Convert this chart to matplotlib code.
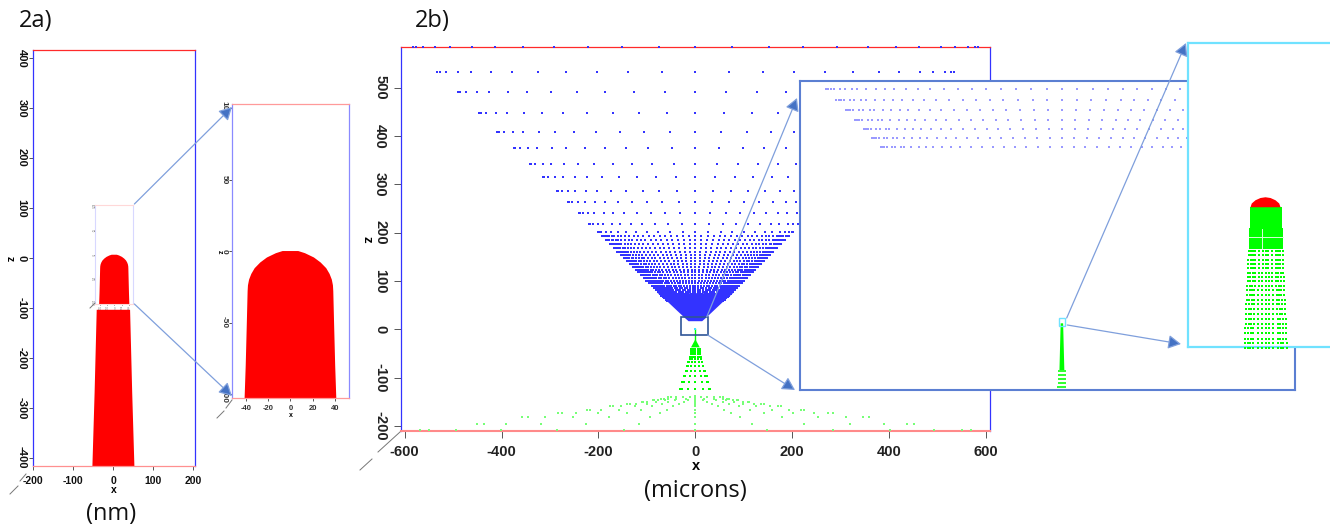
import numpy as np
import matplotlib
matplotlib.use("Agg")
import matplotlib.pyplot as plt

plt.rcParams['font.family'] = ['Liberation Sans', 'DejaVu Sans']
plt.rcParams['axes.unicode_minus'] = False

W, H = 1330, 527

# ---------- data ----------
# 2a: tip outline, half of it (nm)
tip_half_x = [7, 13, 21, 27, 32, 35, 37, 38, 38.3, 39, 40, 41]
tip_z = [0, -1.5, -4.5, -8, -12, -16, -20, -24, -28, -50, -80, -103]
shank_half_x = [41.7, 47, 52.5]
shank_z = [-104, -270, -417]

a_xticks = [-200, -100, 0, 100, 200]
a_zticks = [-400, -300, -200, -100, 0, 100, 200, 300, 400]
zoom_xticks = [-40, -20, 0, 20, 40]
zoom_zticks = [-100, -50, 0, 50, 100]

# 2b: microns
b_xticks = [-600, -400, -200, 0, 200, 400, 600]
b_zticks = [-200, -100, 0, 100, 200, 300, 400, 500]

blue_sparse_z = [583, 533, 490, 447, 409, 375, 342, 315, 286, 263, 240, 219, 201]
blue_sparse_frac = [0, .13, .26, .38, .50, .61, .71, .79, .87, .92, .965, .99, 1.0]
blue_dense_z = [193, 184, 176, 168, 161, 154, 148, 141, 135, 129, 123, 118, 112, 107,
                101, 96, 90, 85, 81, 78, 73, 70, 67, 64, 61, 58]
blue_dense_frac = [0, .065, .13, .196, .26, .32, .38, .44, .50, .56, .61, .66, .71, .75,
                   .79, .83, .87, .89, .92, .94, .965, .98, .99, 1.0]
blue_solid_half = [14, 22, 58, 78]
blue_solid_z = [17, 24, 58, 75]

cone_z = [-123, -109, -96.6, -85.7, -76.6, -68.3, -62, -56.7, -51.7, -47, -43, -40]
cone_half = [31, 27, 23, 20, 16.5, 14.5, 12, 11, 9.5, 9, 9, 9]
cone_frac = [0, .5, .9, 1.0]
cone_solid_half = [1, 9]
cone_solid_z = [-22, -37]
stem_z = [0, -22]

arc_z = [-207, -194.5, -182, -172.6, -165.6, -158.7, -154, -150, -146, -143, -140]
arc_x = [[147, 285, 402, 493, 550, 568],
         [116, 225, 318.5, 390, 436, 450.6],
         [93, 178, 252.5, 310, 345, 358],
         [73.6, 142, 201, 245.6, 274.5, 283],
         [59, 113, 158, 194, 218, 224],
         [46, 89, 125, 154, 171, 177],
         [34, 69, 99, 122, 135.5, 141],
         [24, 56, 80.5, 99, 108, 110],
         [16, 43, 63, 78, 85, 87],
         [18.6, 39, 56, 65, 70],
         [12, 25, 39, 50, 56]]
arc_center_z = [-207, -194.5, -182, -172.6, -165.6, -158.7, -155, -152, -149, -146, -143, -140, -137]

# inset of the box in 2b
inset_row_z = [25, 23.9, 22.9, 21.9, 21, 20.1, 19.2]
spike_half = [0.13, 0.26]
spike_z = [1.57, -3.13]
spike_row_z = [-3.2, -3.6, -4.0, -4.4, -4.8]
spike_row_half = [0.3, 0.32, 0.33, 0.35, 0.36]
spike_frac = [0, .33, .66, 1.0]

# third panel (microns from the tip)
cap_half = [0, .02, .04, .055, .06]
cap_z = [0, -.003, -.012, -.025, -.04]
body_half = [.064, .068]
body_z = [-.04, -.123, -.207]
tail_z = [-.215, -.231, -.251, -.267, -.284, -.302, -.32, -.336, -.354, -.371, -.39,
          -.41, -.428, -.448, -.467, -.487, -.506, -.524, -.544, -.566, -.584, -.603]
tail_half = [.068, .068, .069, .07, .07, .071, .072, .072, .073, .074, .075,
             .076, .077, .078, .079, .08, .08, .081, .082, .083, .084, .084]
tail_frac = [0, .17, .38, .6, .72, .85, 1.0]

BLUE = '#3333ff'
RED = '#ff2a2a'
GREEN = '#00ff00'
FILLRED = '#ff0000'
ARROW = '#4472c4'


def axes_px(fig, x0, y0, x1, y1, z=1):
    return fig.add_axes([x0 / W, 1 - y1 / H, (x1 - x0) / W, (y1 - y0) / H], zorder=z)


def style(ax, xticks, zticks, xsize, zsize, lr, tb, bottom=None, lw=0.9, weight='normal',
          tcolor='#111111', tlen=3, xpad=2, zpad=2):
    ax.set_xticks(xticks)
    ax.set_yticks(zticks)
    ax.tick_params(axis='x', labelsize=xsize, length=tlen, width=0.7, color='#555555',
                   labelcolor=tcolor, pad=xpad)
    ax.tick_params(axis='y', labelsize=zsize, length=tlen, width=0.7, color='#555555',
                   labelcolor=tcolor, pad=zpad)
    for t in ax.get_yticklabels():
        t.set_rotation(-90)
        t.set_va('center')
        t.set_ha('center')
        t.set_fontweight(weight)
    for t in ax.get_xticklabels():
        t.set_fontweight(weight)
    for s in ('left', 'right'):
        ax.spines[s].set_color(lr)
        ax.spines[s].set_linewidth(lw)
    ax.spines['top'].set_color(tb)
    ax.spines['top'].set_linewidth(lw)
    ax.spines['bottom'].set_color(bottom or tb)
    ax.spines['bottom'].set_linewidth(lw)


def mirror(half, z):
    half = np.asarray(half, float)
    z = np.asarray(z, float)
    return np.r_[-half, half[::-1]], np.r_[z, z[::-1]]


fig = plt.figure(figsize=(W / 100, H / 100), dpi=100, facecolor='white')

# ---------- 2a main ----------
ax = axes_px(fig, 32.6, 50.4, 195, 466.2, 1)
ax.set_xlim(-202, 204)
ax.set_ylim(-417, 415)
xs, zs = mirror(shank_half_x, shank_z)
ax.fill(xs, zs, color=FILLRED, lw=0)
style(ax, a_xticks, a_zticks, 7.5, 8, BLUE, RED, bottom='#ff9090', weight='bold', xpad=4, zpad=5)
ax.set_xlabel('x', fontsize=7.5, fontweight='bold', labelpad=-1)
ax.set_ylabel('z', fontsize=7.5, fontweight='bold', rotation=-90, labelpad=5, va='center')

# ---------- 2a zoom panel ----------
ax = axes_px(fig, 232.3, 104.2, 348.6, 398.3, 2)
ax.set_xlim(-52, 52)
ax.set_ylim(-103, 102.7)
xs, zs = mirror(tip_half_x, tip_z)
ax.fill(xs, zs, color=FILLRED, lw=0)
style(ax, zoom_xticks, zoom_zticks, 5.5, 6, '#8a8aff', '#ff9a9a', tlen=2, xpad=3, zpad=4,
      weight='bold', tcolor='#333333')
ax.set_xlabel('x', fontsize=5, fontweight='bold', labelpad=0)
ax.set_ylabel('z', fontsize=5, fontweight='bold', rotation=-90, labelpad=1, va='center')

# ---------- 2a tiny copy over the main shape ----------
ax = axes_px(fig, 95.1, 205.4, 133.4, 304.2, 3)
ax.set_xlim(-52, 52)
ax.set_ylim(-103, 102.7)
ax.fill(xs, zs, color=FILLRED, lw=0)
style(ax, zoom_xticks, zoom_zticks, 2, 2, '#d8d8ff', '#ffd8d8', tlen=1, xpad=1, zpad=1.5,
      tcolor='#777777', lw=0.8)

# ---------- 2b main ----------
ax = axes_px(fig, 401, 47, 990, 431, 4)
ax.set_xlim(-607.5, 608)
ax.set_ylim(-210, 584)
sparse_x = np.outer(blue_sparse_z, blue_sparse_frac)
sparse_z = np.repeat(blue_sparse_z, len(blue_sparse_frac)).reshape(sparse_x.shape)
dense_x = np.outer(blue_dense_z, blue_dense_frac)
dense_z = np.repeat(blue_dense_z, len(blue_dense_frac)).reshape(dense_x.shape)
for px, pz, s in ((sparse_x, sparse_z, 1.5), (dense_x, dense_z, 1.7)):
    ax.scatter(np.r_[px.ravel(), -px.ravel()], np.r_[pz.ravel(), pz.ravel()], s=s,
               marker='s', color=BLUE, linewidths=0, clip_on=False, zorder=3)
xs, zs = mirror(blue_solid_half, blue_solid_z)
ax.fill(xs, zs, color=BLUE, lw=0, zorder=3)

cx = np.outer(cone_half, cone_frac)
cz = np.repeat(cone_z, len(cone_frac)).reshape(cx.shape)
ax.scatter(np.r_[cx.ravel(), -cx.ravel()], np.r_[cz.ravel(), cz.ravel()], s=2.6, marker='s',
           color=GREEN, linewidths=0, zorder=3)
xs, zs = mirror(cone_solid_half, cone_solid_z)
ax.fill(xs, zs, color=GREEN, lw=0, zorder=3)
ax.plot([0, 0], stem_z, color=GREEN, lw=1.0, zorder=3)
ax.scatter([0], stem_z[:1], s=3, marker='s', color='#40e0ff', linewidths=0, zorder=4)
for z_, row in zip(arc_z, arc_x):
    row = np.asarray(row)
    ax.scatter(np.r_[row, -row], np.full(2 * len(row), z_), s=1.2, marker='s', color='#77ff77',
               linewidths=0, clip_on=False, zorder=3)
ax.scatter(np.zeros(len(arc_center_z)), arc_center_z, s=1.2, marker='s', color='#77ff77',
           linewidths=0, clip_on=False, zorder=3)
style(ax, b_xticks, b_zticks, 10.5, 10.5, BLUE, RED, bottom='#ff8a8a', weight='bold', xpad=5, zpad=10,
      tlen=5, tcolor='#222222')
ax.spines['bottom'].set_linewidth(1.5)
ax.set_xlabel('x', fontsize=10.5, fontweight='bold', labelpad=0)
ax.set_ylabel('z', fontsize=9.5, fontweight='bold', rotation=-90, labelpad=5, va='center')

# ---------- 2b first inset ----------
ax = axes_px(fig, 800, 81, 1295, 390, 5)
ax.set_xlim(-27.75, 24.7)
ax.set_ylim(-5.1, 25.8)
ix = np.outer(inset_row_z, blue_dense_frac)
iz = np.repeat(inset_row_z, len(blue_dense_frac)).reshape(ix.shape)
ax.scatter(np.r_[ix.ravel(), -ix.ravel()], np.r_[iz.ravel(), iz.ravel()], s=1.0, marker='s',
           color='#9a9aff', linewidths=0, zorder=3)
xs, zs = mirror(spike_half, spike_z)
ax.fill(xs, zs, color=GREEN, lw=0, zorder=3)
sx = np.outer(spike_row_half, spike_frac)
sz = np.repeat(spike_row_z, len(spike_frac)).reshape(sx.shape)
ax.scatter(np.r_[sx.ravel(), -sx.ravel()], np.r_[sz.ravel(), sz.ravel()], s=1.0, marker='s',
           color='#33ff33', linewidths=0, zorder=3)
ax.set_xticks([])
ax.set_yticks([])
for s in ax.spines.values():
    s.set_color('#5b7fd2')
    s.set_linewidth(1.5)

# ---------- 2b second inset ----------
ax = axes_px(fig, 1188, 43, 1332, 347, 6)
ax.set_xlim(-.310, .266)
ax.set_ylim(-.599, .617)
ax.fill(*mirror(cap_half, cap_z), color=FILLRED, lw=0, zorder=4)
bx = [-body_half[0], body_half[0], body_half[0], body_half[1], body_half[1],
      -body_half[1], -body_half[1], -body_half[0]]
bz = [body_z[0], body_z[0], body_z[1], body_z[1], body_z[2], body_z[2], body_z[1], body_z[1]]
ax.fill(bx, bz, color=GREEN, lw=0, zorder=3)
ax.plot([-body_half[1], body_half[1]], [-.16, -.16], color='#d8ffd8', lw=0.7, zorder=4)
ax.plot([-.013, -.013], [-.125, -.207], color='#d8ffd8', lw=0.7, zorder=4)
tx = np.outer(tail_half, tail_frac)
tz = np.repeat(tail_z, len(tail_frac)).reshape(tx.shape)
ax.scatter(np.r_[tx.ravel(), -tx.ravel()], np.r_[tz.ravel(), tz.ravel()], s=2.0, marker='s',
           color=GREEN, linewidths=0, clip_on=False, zorder=5)
ax.set_xticks([])
ax.set_yticks([])
ax.spines['right'].set_visible(False)
for s in ('left', 'top', 'bottom'):
    ax.spines[s].set_color('#70e2ff')
    ax.spines[s].set_linewidth(1.6)

# ---------- overlay in pixel units: arrows, box, words ----------
ov = fig.add_axes([0, 0, 1, 1], zorder=10)
ov.set_xlim(0, W)
ov.set_ylim(H, 0)
ov.axis('off')
ov.patch.set_alpha(0)

arrows = [((134.4, 204), (232, 107)), ((134.4, 304), (232, 396)),
          ((706.7, 317), (797, 98)), ((707.7, 335), (795, 390)),
          ((1066.7, 318), (1186, 43)), ((1067.3, 325), (1181, 344))]
for start, end in arrows:
    ov.annotate('', xy=end, xytext=start,
                arrowprops=dict(arrowstyle='-|>,head_length=0.55,head_width=0.3', lw=0.9,
                                ec='#7f9fdc', fc=ARROW, shrinkA=0, shrinkB=0, mutation_scale=14))
ov.add_patch(plt.Rectangle((681.3, 316.7), 26.4, 18, fill=False, ec='#2f5597', lw=1.2))
ov.add_patch(plt.Rectangle((1059.4, 318.3), 5.3, 7.5, fill=False, ec='#70e2ff', lw=1.0))

ticks = [((10, 494), (18, 486)), ((20, 481), (26, 474)), ((217, 418), (224, 411)),
         ((226, 408), (232, 400)), ((360, 470), (372, 459)), ((378, 452), (400, 432)),
         ((90, 308), (95, 303))]
for p, q in ticks:
    ov.plot([p[0], q[0]], [p[1], q[1]], color='#777777', lw=0.7)

word = dict(family=['Open Sans', 'DejaVu Sans'], fontsize=17, color='#111111', va='center')
ov.text(19, 21, '2a)', ha='left', **word)
ov.text(415, 21, '2b)', ha='left', **word)
ov.text(111, 514, '(nm)', ha='center', **word)
ov.text(695, 491, '(microns)', ha='center', **word)

fig.savefig('out.png', dpi=100, facecolor='white')
